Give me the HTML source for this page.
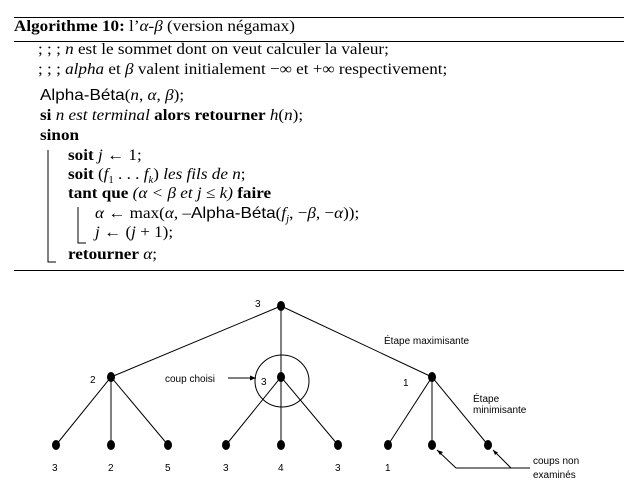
<!DOCTYPE html>
<html><head><meta charset="utf-8"><style>
body{margin:0;background:#fff;width:630px;height:492px;overflow:hidden;position:relative;font-family:"Liberation Serif",serif;color:#000}
.t{position:absolute;font-size:16px;white-space:nowrap;line-height:1;transform:scaleX(1.07);transform-origin:0 0}
.s{font-family:"Liberation Sans",sans-serif}
.hr{position:absolute;left:14px;width:610px;height:1px;background:#000}
i{font-style:italic}
sub{font-size:10px}
</style></head><body>
<div class="hr" style="top:17px"></div>
<div class="hr" style="top:41px"></div>
<div class="hr" style="top:270px"></div>
<div class="t" style="left:14px;top:19px"><b>Algorithme 10:</b> l’<i>α</i>-<i>β</i> (version négamax)</div>
<div class="t" style="left:38px;top:42px">; ; ; <i>n</i> est le sommet dont on veut calculer la valeur;</div>
<div class="t" style="left:38px;top:62px">; ; ; <i>alpha</i> et <i>β</i> valent initialement −∞ et +∞ respectivement;</div>
<div class="t" style="left:40px;top:88px"><span class="s" style="font-size:16px">Alpha-Béta</span>(<i>n</i>, <i>α</i>, <i>β</i>);</div>
<div class="t" style="left:40px;top:108px"><b>si</b> <i>n est terminal</i> <b>alors retourner</b> <i>h</i>(<i>n</i>);</div>
<div class="t" style="left:40px;top:128px"><b>sinon</b></div>
<div class="t" style="left:68px;top:148px"><b>soit</b> <i>j</i> ← 1;</div>
<div class="t" style="left:68px;top:167px"><b>soit</b> (<i>f</i><sub>1</sub> . . . <i>f<sub>k</sub></i>) <i>les fils de n</i>;</div>
<div class="t" style="left:68px;top:186px"><b>tant que</b> <i>(α &lt; β et j ≤ k)</i> <b>faire</b></div>
<div class="t" style="left:95px;top:206px"><i>α</i> ← max(<i>α</i>, –<span class="s" style="font-size:16px">Alpha-Béta</span>(<i>f<sub>j</sub></i>, −<i>β</i>, −<i>α</i>));</div>
<div class="t" style="left:95px;top:225px"><i>j</i> ← (<i>j</i> + 1);</div>
<div class="t" style="left:68px;top:247px"><b>retourner</b> <i>α</i>;</div>
<svg width="630" height="492" style="position:absolute;left:0;top:0" font-family="Liberation Sans, sans-serif" font-size="10">
<g stroke="#000" stroke-width="1" fill="none">
<path d="M48 150V262H56M78 207V243H86"/>
<path d="M281 306L111 377M281 306L281 377M281 306L432 377"/>
<path d="M111 377L56 445M111 377L111 445M111 377L168 445M281 377L226 445M281 377L281 445M281 377L338 445M432 377L388 445M432 377L432 445M432 377L488 445"/>
<ellipse cx="282" cy="381" rx="27" ry="26"/>
<path d="M228 378H256M437 450L456 468H530M493 450L511 468"/>
</g>
<g fill="#000">
<ellipse cx="281" cy="306" rx="4" ry="5"/>
<ellipse cx="111" cy="377" rx="4" ry="5"/><ellipse cx="281" cy="377" rx="4" ry="5"/><ellipse cx="432" cy="377" rx="4" ry="5"/>
<ellipse cx="56" cy="445" rx="4" ry="5"/><ellipse cx="111" cy="445" rx="4" ry="5"/><ellipse cx="168" cy="445" rx="4" ry="5"/>
<ellipse cx="226" cy="445" rx="4" ry="5"/><ellipse cx="281" cy="445" rx="4" ry="5"/><ellipse cx="338" cy="445" rx="4" ry="5"/>
<ellipse cx="388" cy="445" rx="4" ry="5"/><ellipse cx="432" cy="445" rx="4" ry="5"/><ellipse cx="488" cy="445" rx="4" ry="5"/>
<path d="M256 378l-6-2.5v5z"/>
<path d="M437 450l6 2 -3 3z"/><path d="M493 450l5 2.5 -3 2.5z"/>
<text x="255" y="307">3</text>
<text x="90" y="383">2</text><text x="261" y="385">3</text><text x="403" y="386">1</text>
<text x="165" y="382">coup choisi</text>
<text x="384" y="344">Étape maximisante</text>
<text x="473" y="402">Étape</text><text x="473" y="413">minimisante</text>
<text x="533" y="464">coups non</text><text x="533" y="478">examinés</text>
<text x="52" y="471">3</text><text x="108" y="471">2</text><text x="165" y="471">5</text>
<text x="223" y="471">3</text><text x="278" y="471">4</text><text x="335" y="471">3</text><text x="385" y="471">1</text>
</g>
</svg>
</body></html>
